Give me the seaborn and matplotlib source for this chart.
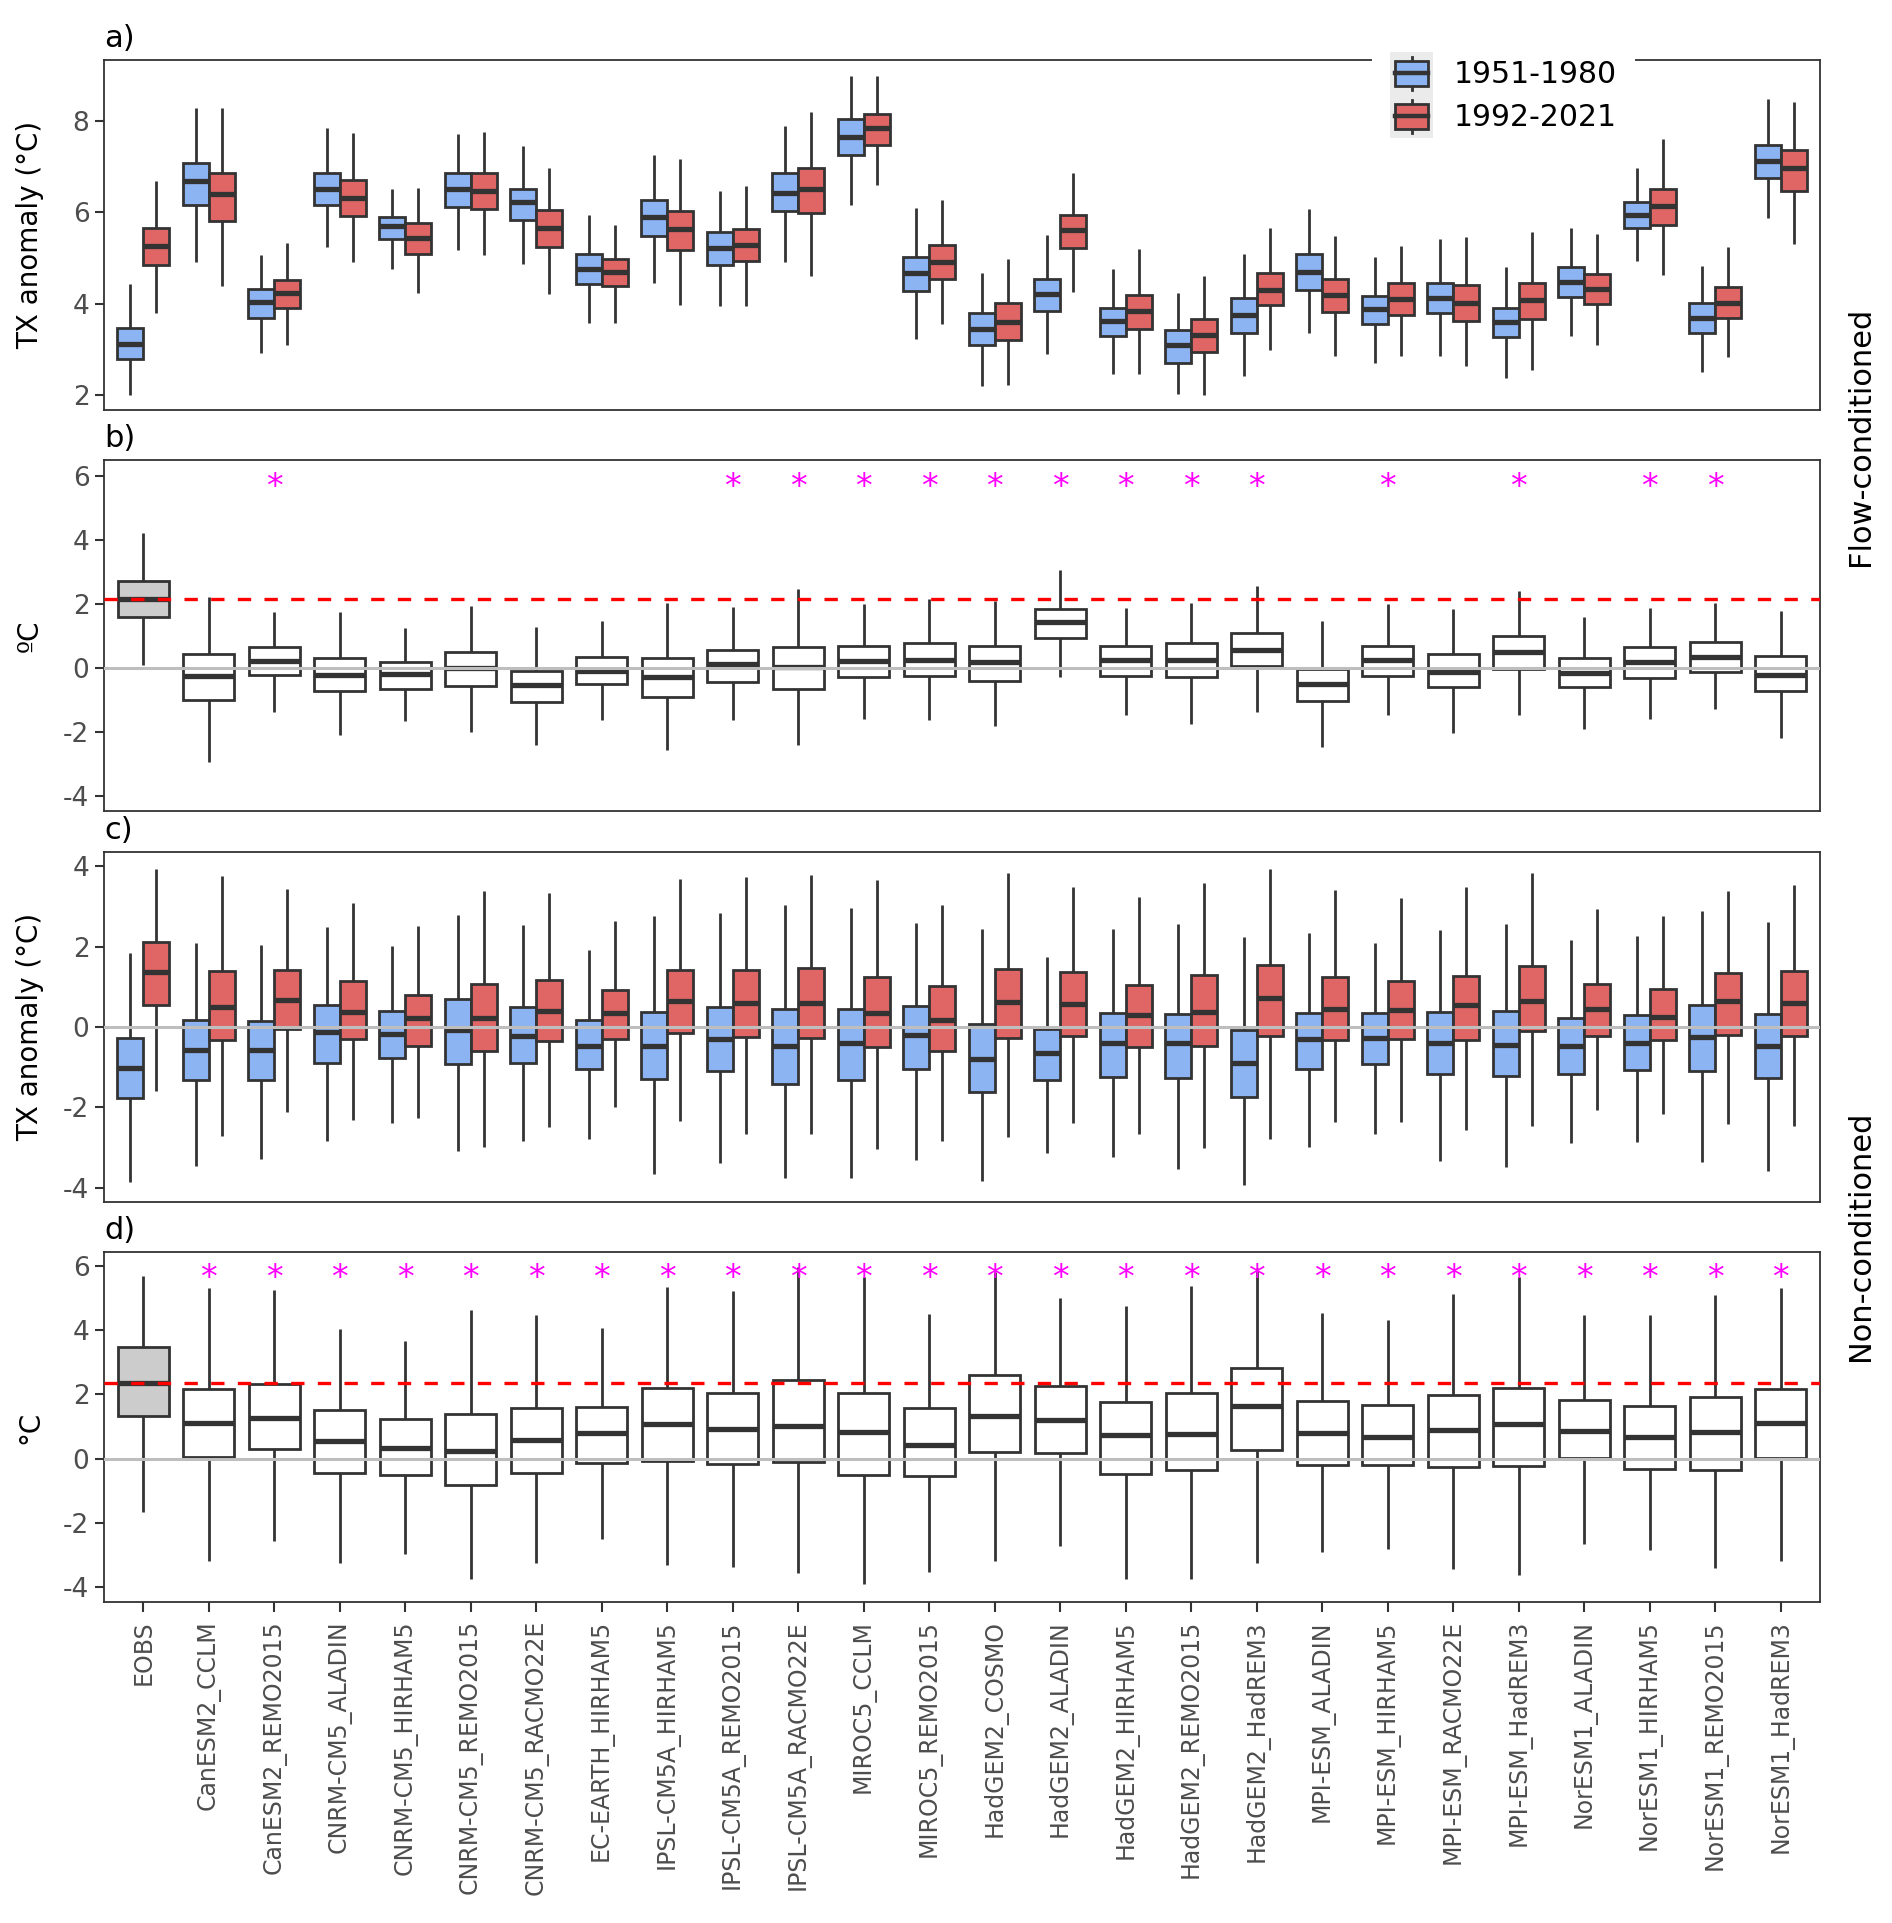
# Boxplots of TX anomalies: flow-conditioned (a, b) and non-conditioned (c, d)
import pandas as pd
import matplotlib
matplotlib.use("Agg")
import matplotlib.pyplot as plt
import seaborn as sns
from matplotlib.legend_handler import HandlerBase
from matplotlib.patches import Rectangle, Patch
from matplotlib.lines import Line2D

# categories (x axis)
models = [
    "EOBS", "CanESM2_CCLM", "CanESM2_REMO2015", "CNRM-CM5_ALADIN", "CNRM-CM5_HIRHAM5",
    "CNRM-CM5_REMO2015", "CNRM-CM5_RACMO22E", "EC-EARTH_HIRHAM5", "IPSL-CM5A_HIRHAM5",
    "IPSL-CM5A_REMO2015", "IPSL-CM5A_RACMO22E", "MIROC5_CCLM", "MIROC5_REMO2015",
    "HadGEM2_COSMO", "HadGEM2_ALADIN", "HadGEM2_HIRHAM5", "HadGEM2_REMO2015",
    "HadGEM2_HadREM3", "MPI-ESM_ALADIN", "MPI-ESM_HIRHAM5", "MPI-ESM_RACMO22E",
    "MPI-ESM_HadREM3", "NorESM1_ALADIN", "NorESM1_HIRHAM5", "NorESM1_REMO2015",
    "NorESM1_HadREM3",
]
periods = ["1951-1980", "1992-2021"]

# five numbers per box: (lower whisker, q1, median, q3, upper whisker)
# a) flow-conditioned, 1951-1980
fc_early = [
    (2.00, 2.79, 3.13, 3.48, 4.43), (4.92, 6.16, 6.68, 7.08, 8.29), (2.92, 3.70, 4.05, 4.32, 5.06),
    (5.25, 6.16, 6.52, 6.87, 7.85), (4.76, 5.41, 5.71, 5.90, 6.51), (5.17, 6.12, 6.50, 6.85, 7.71),
    (4.88, 5.84, 6.22, 6.52, 7.45), (3.59, 4.43, 4.77, 5.08, 5.94), (4.46, 5.49, 5.90, 6.27, 7.25),
    (3.95, 4.86, 5.21, 5.56, 6.46), (4.92, 6.03, 6.43, 6.85, 7.89), (6.16, 7.25, 7.65, 8.03, 8.98),
    (3.23, 4.28, 4.68, 5.03, 6.10), (2.20, 3.10, 3.46, 3.79, 4.68), (2.90, 3.84, 4.21, 4.55, 5.50),
    (2.46, 3.30, 3.62, 3.92, 4.77), (2.02, 2.71, 3.10, 3.43, 4.24), (2.43, 3.37, 3.75, 4.12, 5.08),
    (3.37, 4.31, 4.70, 5.10, 6.08), (2.71, 3.55, 3.88, 4.18, 5.03), (2.86, 3.79, 4.13, 4.46, 5.41),
    (2.38, 3.27, 3.61, 3.92, 4.81), (3.30, 4.15, 4.48, 4.80, 5.65), (4.93, 5.65, 5.94, 6.23, 6.98),
    (2.52, 3.37, 3.70, 4.02, 4.82), (5.87, 6.75, 7.13, 7.47, 8.47),
]
# a) flow-conditioned, 1992-2021
fc_late = [
    (3.81, 4.86, 5.27, 5.65, 6.68), (4.39, 5.82, 6.40, 6.86, 8.27), (3.10, 3.90, 4.23, 4.52, 5.33),
    (4.92, 5.92, 6.32, 6.70, 7.74), (4.24, 5.10, 5.44, 5.76, 6.54), (5.06, 6.07, 6.46, 6.85, 7.76),
    (4.21, 5.25, 5.65, 6.05, 6.98), (3.59, 4.39, 4.70, 4.99, 5.72), (3.97, 5.17, 5.63, 6.03, 7.16),
    (3.95, 4.93, 5.28, 5.64, 6.58), (4.61, 5.98, 6.50, 6.96, 8.20), (6.59, 7.47, 7.85, 8.15, 8.98),
    (3.55, 4.55, 4.92, 5.28, 6.28), (2.22, 3.22, 3.61, 4.01, 4.99), (4.26, 5.23, 5.61, 5.95, 6.85),
    (2.46, 3.46, 3.84, 4.19, 5.19), (2.00, 2.94, 3.32, 3.67, 4.61), (3.00, 3.97, 4.31, 4.68, 5.65),
    (2.86, 3.83, 4.19, 4.55, 5.49), (2.86, 3.75, 4.10, 4.45, 5.27), (2.65, 3.63, 4.02, 4.41, 5.47),
    (2.55, 3.66, 4.08, 4.46, 5.57), (3.11, 3.99, 4.32, 4.65, 5.52), (4.63, 5.72, 6.14, 6.52, 7.60),
    (2.83, 3.70, 4.02, 4.36, 5.25), (5.30, 6.47, 6.98, 7.37, 8.41),
]
# b) flow-conditioned, difference
fc_diff = [
    (0.08, 1.59, 2.15, 2.72, 4.20), (-2.94, -0.99, -0.25, 0.42, 2.20), (-1.38, -0.23, 0.22, 0.64, 1.75),
    (-2.10, -0.72, -0.23, 0.32, 1.73), (-1.66, -0.65, -0.20, 0.17, 1.23), (-2.00, -0.56, 0.01, 0.50, 1.93),
    (-2.40, -1.08, -0.54, -0.09, 1.28), (-1.64, -0.52, -0.10, 0.34, 1.47), (-2.55, -0.91, -0.28, 0.31, 2.01),
    (-1.64, -0.44, 0.11, 0.57, 1.89), (-2.42, -0.65, 0.03, 0.66, 2.45), (-1.60, -0.28, 0.22, 0.68, 1.98),
    (-1.64, -0.25, 0.24, 0.79, 2.14), (-1.82, -0.41, 0.17, 0.68, 2.09), (-0.30, 0.92, 1.42, 1.85, 3.07),
    (-1.48, -0.25, 0.24, 0.68, 1.87), (-1.74, -0.28, 0.24, 0.79, 2.03), (-1.38, 0.05, 0.57, 1.09, 2.55),
    (-2.47, -1.03, -0.49, -0.05, 1.47), (-1.46, -0.25, 0.24, 0.69, 1.98), (-2.03, -0.61, -0.13, 0.42, 1.83),
    (-1.48, -0.05, 0.48, 1.00, 2.41), (-1.90, -0.61, -0.16, 0.31, 1.59), (-1.60, -0.31, 0.19, 0.64, 1.87),
    (-1.30, -0.13, 0.34, 0.81, 2.03), (-2.18, -0.73, -0.23, 0.36, 1.78),
]
# c) non-conditioned, 1951-1980
nc_early = [
    (-3.86, -1.76, -1.02, -0.27, 1.85), (-3.46, -1.33, -0.58, 0.17, 2.10), (-3.28, -1.31, -0.58, 0.15, 2.05),
    (-2.84, -0.89, -0.12, 0.54, 2.49), (-2.39, -0.77, -0.17, 0.41, 2.02), (-3.09, -0.91, -0.07, 0.71, 2.80),
    (-2.85, -0.90, -0.22, 0.50, 2.55), (-2.78, -1.05, -0.48, 0.17, 1.91), (-3.65, -1.29, -0.47, 0.37, 2.76),
    (-3.40, -1.10, -0.31, 0.50, 2.84), (-3.76, -1.41, -0.48, 0.44, 3.03), (-3.76, -1.33, -0.39, 0.44, 2.96),
    (-3.32, -1.04, -0.19, 0.52, 2.60), (-3.83, -1.62, -0.79, 0.07, 2.45), (-3.14, -1.31, -0.66, -0.04, 1.74),
    (-3.24, -1.24, -0.41, 0.36, 2.43), (-3.54, -1.26, -0.41, 0.33, 2.57), (-3.94, -1.74, -0.90, -0.08, 2.24),
    (-2.99, -1.05, -0.31, 0.36, 2.34), (-2.67, -0.93, -0.27, 0.36, 2.09), (-3.34, -1.16, -0.41, 0.37, 2.41),
    (-3.49, -1.22, -0.46, 0.40, 2.57), (-2.89, -1.18, -0.47, 0.22, 2.18), (-2.86, -1.08, -0.40, 0.29, 2.27),
    (-3.36, -1.10, -0.25, 0.54, 2.88), (-3.59, -1.27, -0.47, 0.33, 2.61),
]
# c) non-conditioned, 1992-2021
nc_late = [
    (-1.60, 0.56, 1.37, 2.12, 3.93), (-2.71, -0.32, 0.51, 1.39, 3.76), (-2.12, -0.06, 0.68, 1.41, 3.43),
    (-2.31, -0.31, 0.37, 1.15, 3.09), (-2.26, -0.48, 0.23, 0.79, 2.51), (-2.99, -0.60, 0.22, 1.06, 3.40),
    (-2.49, -0.35, 0.41, 1.16, 3.34), (-1.99, -0.31, 0.35, 0.91, 2.64), (-2.34, -0.14, 0.65, 1.41, 3.69),
    (-2.66, -0.25, 0.60, 1.43, 3.73), (-2.66, -0.27, 0.61, 1.48, 3.78), (-3.05, -0.51, 0.36, 1.24, 3.65),
    (-2.85, -0.60, 0.18, 1.01, 3.03), (-2.74, -0.27, 0.62, 1.45, 3.84), (-2.38, -0.22, 0.58, 1.37, 3.50),
    (-2.66, -0.51, 0.31, 1.04, 3.25), (-3.01, -0.47, 0.37, 1.29, 3.59), (-2.80, -0.23, 0.72, 1.55, 3.94),
    (-2.37, -0.33, 0.44, 1.24, 3.42), (-2.37, -0.29, 0.43, 1.15, 3.22), (-2.56, -0.32, 0.54, 1.27, 3.50),
    (-2.47, -0.10, 0.66, 1.52, 3.84), (-2.06, -0.22, 0.44, 1.08, 2.93), (-2.17, -0.33, 0.25, 0.94, 2.76),
    (-2.41, -0.19, 0.64, 1.34, 3.40), (-2.47, -0.22, 0.60, 1.39, 3.55),
]
# d) non-conditioned, difference
nc_diff = [
    (-1.66, 1.32, 2.36, 3.48, 5.69), (-3.19, 0.05, 1.12, 2.18, 5.33), (-2.58, 0.29, 1.25, 2.34, 5.25),
    (-3.25, -0.45, 0.54, 1.51, 4.03), (-2.98, -0.52, 0.33, 1.22, 3.66), (-3.74, -0.83, 0.23, 1.40, 4.62),
    (-3.25, -0.45, 0.57, 1.59, 4.47), (-2.52, -0.14, 0.81, 1.61, 4.08), (-3.32, -0.07, 1.09, 2.20, 5.35),
    (-3.38, -0.18, 0.92, 2.05, 5.22), (-3.58, -0.12, 1.03, 2.44, 5.97), (-3.90, -0.50, 0.83, 2.05, 5.66),
    (-3.53, -0.55, 0.42, 1.59, 4.52), (-3.19, 0.21, 1.33, 2.62, 5.82), (-2.72, 0.18, 1.19, 2.26, 5.02),
    (-3.74, -0.49, 0.73, 1.77, 4.75), (-3.74, -0.34, 0.78, 2.03, 5.37), (-3.25, 0.28, 1.64, 2.83, 5.95),
    (-2.91, -0.19, 0.80, 1.80, 4.54), (-2.81, -0.21, 0.68, 1.66, 4.33), (-3.43, -0.26, 0.88, 1.99, 5.14),
    (-3.64, -0.23, 1.09, 2.20, 5.66), (-2.65, 0.03, 0.86, 1.82, 4.47), (-2.86, -0.31, 0.68, 1.64, 4.47),
    (-3.41, -0.36, 0.83, 1.92, 5.09), (-3.19, 0.03, 1.11, 2.16, 5.33),
]

# models with a significant change (magenta stars)
fc_signif = [
    "CanESM2_REMO2015", "IPSL-CM5A_REMO2015", "IPSL-CM5A_RACMO22E", "MIROC5_CCLM",
    "MIROC5_REMO2015", "HadGEM2_COSMO", "HadGEM2_ALADIN", "HadGEM2_HIRHAM5",
    "HadGEM2_REMO2015", "HadGEM2_HadREM3", "MPI-ESM_HIRHAM5", "MPI-ESM_HadREM3",
    "NorESM1_HIRHAM5", "NorESM1_REMO2015",
]
nc_signif = models[1:]

# colours
EDGE = "#333333"
period_colors = {"1951-1980": "#8db4f2", "1992-2021": "#e06666"}
diff_colors = {m: ("#cccccc" if m == "EOBS" else "white") for m in models}

plt.rcParams["font.family"] = ["DejaVu Sans"]
plt.rcParams["axes.unicode_minus"] = False


def long_table(stats, period=None):
    # one row per five-number value, so the box is drawn from these numbers
    rows = []
    for name, five in zip(models, stats):
        for v in five:
            rows.append({"model": name, "period": period, "value": v})
    return pd.DataFrame(rows)


box_kws = dict(
    whis=(0, 100), showfliers=False, saturation=1, linecolor=EDGE, linewidth=2.0,
    medianprops=dict(color=EDGE, linewidth=3.8, solid_capstyle="butt"),
    capprops=dict(linewidth=0),
)


def paired_panel(ax, early, late):
    df = pd.concat([long_table(early, periods[0]), long_table(late, periods[1])])
    sns.boxplot(data=df, x="model", y="value", hue="period", order=models,
                hue_order=periods, palette=period_colors, width=0.8, gap=0,
                legend=False, ax=ax, **box_kws)


def diff_panel(ax, stats, signif):
    df = long_table(stats)
    sns.boxplot(data=df, x="model", y="value", hue="model", order=models,
                hue_order=models, palette=diff_colors, width=0.78, dodge=False,
                legend=False, ax=ax, **box_kws)
    ax.axhline(0, color="#bebebe", linewidth=2.2, zorder=5)
    ax.axhline(stats[0][2], color="red", linewidth=2.4, linestyle=(0, (4, 4)), zorder=6)
    for m in signif:
        ax.annotate("*", xy=(models.index(m), 5.95), xytext=(0, -14.5),
                    textcoords="offset points", ha="center", va="baseline",
                    fontsize=24, color="magenta", zorder=7)


def style_axes(ax, ylim, yticks, ylabel, letter):
    ax.set_xlim(-0.6, len(models) - 0.4)
    ax.set_ylim(*ylim)
    ax.set_yticks(yticks)
    ax.set_xlabel("")
    ax.set_ylabel(ylabel, fontsize=20, color="black")
    ax.yaxis.set_label_coords(-0.035, 0.5)
    ax.grid(False)
    for s in ax.spines.values():
        s.set_color(EDGE)
        s.set_linewidth(1.3)
    ax.tick_params(axis="y", length=6.5, width=1.5, color=EDGE, labelsize=19,
                   labelcolor="#4d4d4d", pad=4)
    ax.tick_params(axis="x", bottom=False, labelbottom=False)
    ax.annotate(letter, xy=(0, 1), xycoords="axes fraction", xytext=(0, 5),
                textcoords="offset points", ha="left", va="bottom", fontsize=22)


class BoxKey(HandlerBase):
    # small boxplot glyph on a grey key background
    def create_artists(self, legend, orig_handle, xdescent, ydescent, width, height, fontsize, trans):
        x0, y0 = -xdescent, -ydescent
        cx, cy = x0 + width / 2, y0 + height / 2
        bw, bh = 0.78 * width, 0.6 * height
        bg = Rectangle((x0, y0), width, height, facecolor="#ebebeb", edgecolor="none", transform=trans)
        wh = Line2D([cx, cx], [y0 + 0.12 * height, y0 + 0.88 * height], color=EDGE, lw=2.0, transform=trans)
        box = Rectangle((cx - bw / 2, cy - bh / 2), bw, bh, facecolor=orig_handle.get_facecolor(),
                        edgecolor=EDGE, lw=2.0, transform=trans)
        med = Line2D([cx - bw / 2, cx + bw / 2], [cy, cy], color=EDGE, lw=3.2, transform=trans)
        return [bg, wh, box, med]


fig = plt.figure(figsize=(18.92, 19.23), dpi=100)
W, H = 1892, 1923
left, right = 104 / W, 1820 / W


def frame(top, bottom):
    return fig.add_axes([left, 1 - bottom / H, right - left, (bottom - top) / H])


ax_a = frame(60, 410)
ax_b = frame(460, 811)
ax_c = frame(852, 1202)
ax_d = frame(1252, 1602)

paired_panel(ax_a, fc_early, fc_late)
style_axes(ax_a, (1.68, 9.33), [2, 4, 6, 8], "TX anomaly (°C)", "a)")

diff_panel(ax_b, fc_diff, fc_signif)
style_axes(ax_b, (-4.47, 6.49), [-4, -2, 0, 2, 4, 6], "ºC", "b)")

paired_panel(ax_c, nc_early, nc_late)
ax_c.axhline(0, color="#bebebe", linewidth=2.2, zorder=5)
style_axes(ax_c, (-4.36, 4.36), [-4, -2, 0, 2, 4], "TX anomaly (°C)", "c)")

diff_panel(ax_d, nc_diff, nc_signif)
style_axes(ax_d, (-4.47, 6.44), [-4, -2, 0, 2, 4, 6], "°C", "d)")
ax_d.set_xticks(range(len(models)))
ax_d.set_xticklabels(models, rotation=90, fontsize=17, color="#4d4d4d")
ax_d.tick_params(axis="x", bottom=True, labelbottom=True, length=7, width=1.5, color=EDGE, pad=6)

# legend for the two periods, sitting over the top frame of panel a
handles = [Patch(facecolor=period_colors[p]) for p in periods]
leg = fig.legend(handles, periods, loc="upper left", bbox_to_anchor=(1372 / W, 1 - 34 / H),
                 bbox_transform=fig.transFigure, handler_map={Patch: BoxKey()},
                 fontsize=21.5, handlelength=1.45, handleheight=1.84, labelspacing=0,
                 handletextpad=0.7, borderpad=0.6, borderaxespad=0, frameon=True,
                 fancybox=False, facecolor="white", edgecolor="none", framealpha=1)
leg.set_zorder(10)

# strip labels on the right
fig.text(1860 / W, 1 - 436 / H, "Flow-conditioned", rotation=90, ha="center", va="center", fontsize=22)
fig.text(1860 / W, 1 - 1236 / H, "Non-conditioned", rotation=90, ha="center", va="center", fontsize=22)

fig.savefig("out.png", dpi=100)
